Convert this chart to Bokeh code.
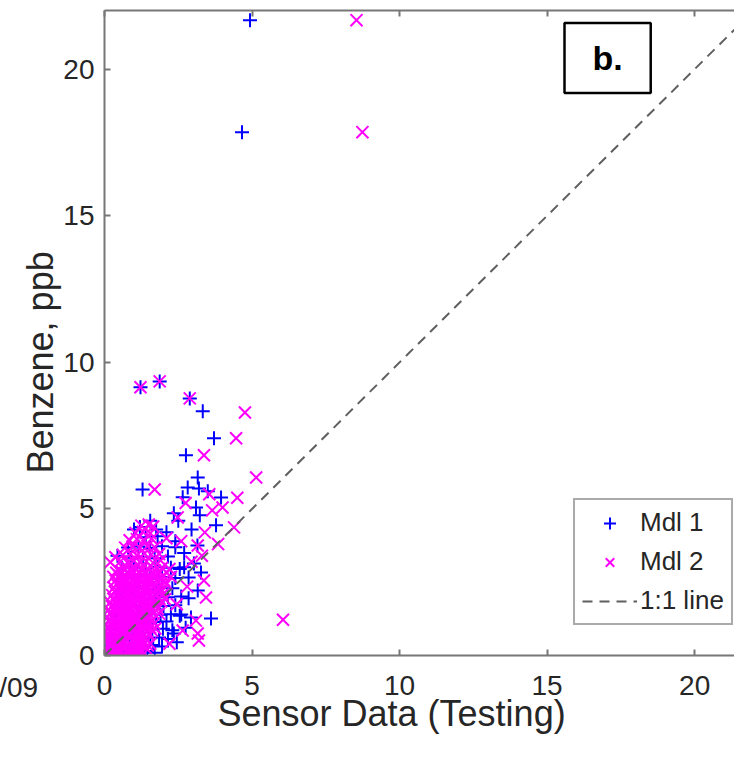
import math
from bokeh.plotting import figure
from bokeh.models import Range1d, LinearAxis, Label, Legend, LegendItem, FixedTicker, Title
from bokeh.embed import file_html
from bokeh.resources import INLINE

# ---------------- data ----------------
x_ticks = [0, 5, 10, 15, 20]
y_ticks = [0, 5, 10, 15, 20]
one_to_one = [0, 22]

# Model 1 (blue +)
mdl1_x = [4.93, 4.66, 1.22, 1.87, 2.89, 3.33, 3.71, 2.76, 3.16, 1.29, 3.20, 3.95, 2.82, 2.65,
          3.50, 2.35, 3.23, 3.78, 3.10, 2.50, 2.95, 3.15, 2.70, 2.40, 2.10, 3.03, 3.27, 3.16,
          3.61, 2.93, 2.35, 2.75, 2.60, 2.45, 2.85, 2.55, 1.75, 1.00, 0.44, 1.55,
          0.10, 0.40, 0.75, 1.10, 1.45, 1.70,
          0.00, 0.30, 0.65, 1.00, 1.35, 1.65, 1.95,
          0.15, 0.50, 0.85, 1.20, 1.55, 1.85, 2.15,
          0.25, 0.60, 0.95, 1.30, 1.62, 1.98, 2.30,
          0.35, 0.70, 1.05, 1.40, 1.75, 2.10,
          0.40, 0.78, 1.12, 1.50, 1.90, 2.25, 2.55,
          0.50, 0.88, 1.25, 1.62, 2.00, 2.40,
          0.55, 0.95, 1.35, 1.75, 2.15, 2.60,
          0.65, 1.05, 1.45, 1.85, 2.30,
          0.75, 1.15, 1.55, 1.95, 2.40, 2.85,
          0.60, 1.00, 1.40, 1.80, 2.25, 2.70,
          0.90, 1.30, 1.70, 2.15,
          0.80, 1.15, 1.55, 1.95, 2.40,
          1.40, 1.80, 1.20]
mdl1_y = [21.67, 17.85, 9.15, 9.35, 8.77, 8.33, 7.41, 6.83, 6.07, 5.66, 5.70, 5.39, 5.73, 5.40,
          5.60, 4.85, 4.78, 4.44, 5.05, 4.60, 4.30, 3.75, 3.50, 3.90, 4.20, 3.14, 2.83, 2.22,
          1.26, 1.30, 0.75, 0.95, 1.40, 0.45, 1.95, 2.95, 4.30, 4.30, 3.40, 4.60,
          0.12, 0.08, 0.14, 0.10, 0.15, 0.09,
          0.33, 0.37, 0.32, 0.38, 0.34, 0.36, 0.31,
          0.58, 0.62, 0.57, 0.63, 0.59, 0.61, 0.56,
          0.88, 0.92, 0.87, 0.93, 0.89, 0.91, 0.86,
          1.13, 1.17, 1.12, 1.18, 1.14, 1.16,
          1.38, 1.42, 1.37, 1.43, 1.39, 1.41, 1.36,
          1.68, 1.72, 1.67, 1.73, 1.69, 1.71,
          1.98, 2.02, 1.97, 2.03, 1.99, 2.01,
          2.28, 2.32, 2.27, 2.33, 2.29,
          2.63, 2.67, 2.62, 2.68, 2.64, 2.66,
          2.98, 3.02, 2.97, 3.03, 2.99, 3.01,
          3.33, 3.37, 3.32, 3.38,
          3.68, 3.72, 3.67, 3.73, 3.69,
          4.03, 4.07, 4.38]

# Model 2 (magenta x)
mdl2_x = [8.54, 8.74, 1.22, 1.87, 2.89, 4.76, 4.46, 3.37, 1.70, 5.14, 4.50, 4.00, 4.39, 3.10,
          3.20, 3.44, 6.05, 3.55, 3.65, 2.48, 3.40, 3.85, 3.16, 3.30, 2.60, 2.95, 3.37, 2.80,
          2.45, 2.65, 3.16, 2.20, 0.37, 1.65, 2.10, 2.75,
          0.02, 0.15, 0.30, 0.45, 0.62, 0.80, 0.98, 1.15, 1.32,
          0.05, 0.20, 0.36, 0.52, 0.70, 0.88, 1.05, 1.22, 1.40,
          0.03, 0.18, 0.34, 0.50, 0.67, 0.85, 1.02, 1.20, 1.38, 1.55,
          0.08, 0.25, 0.42, 0.60, 0.78, 0.95, 1.12, 1.30, 1.50,
          0.12, 0.30, 0.48, 0.65, 0.82, 1.00, 1.18, 1.36, 1.55, 1.72,
          0.15, 0.33, 0.50, 0.68, 0.86, 1.04, 1.22, 1.40, 1.60,
          0.20, 0.38, 0.55, 0.72, 0.90, 1.08, 1.27, 1.45, 1.65, 1.85,
          0.25, 0.42, 0.60, 0.78, 0.96, 1.14, 1.32, 1.52, 1.75,
          0.30, 0.48, 0.66, 0.84, 1.02, 1.20, 1.40, 1.60, 1.85, 2.05,
          0.35, 0.55, 0.74, 0.92, 1.10, 1.30, 1.50, 1.72, 1.95,
          0.42, 0.60, 0.80, 1.00, 1.18, 1.38, 1.60, 1.82, 2.10,
          0.30, 0.50, 0.70, 0.90, 1.10, 1.30, 1.52, 1.75, 2.00, 2.25,
          0.45, 0.65, 0.85, 1.05, 1.25, 1.47, 1.70, 1.95, 2.20,
          0.20, 0.55, 0.78, 1.00, 1.20, 1.42, 1.65, 1.90,
          0.62, 0.88, 1.10, 1.35, 1.58, 1.85,
          0.70, 0.95, 1.20, 1.45, 1.70,
          0.85, 1.10, 1.35, 1.60,
          1.05, 1.30, 1.55,
          1.25, 1.50,
          0.09, 0.24, 0.40, 0.55, 0.72, 0.90, 1.07, 1.24,
          0.12, 0.28, 0.44, 0.60, 0.78, 0.95, 1.13, 1.30, 1.47,
          0.00, 0.16, 0.33, 0.51, 0.69, 0.86, 1.04, 1.21, 1.40,
          0.03, 0.20, 0.38, 0.56, 0.73, 0.90, 1.08, 1.26, 1.45, 1.62,
          0.06, 0.24, 0.42, 0.60, 0.77, 0.95, 1.13, 1.31, 1.50, 1.68,
          0.10, 0.28, 0.46, 0.64, 0.81, 0.99, 1.17, 1.35, 1.54,
          0.15, 0.33, 0.50, 0.68, 0.86, 1.04, 1.22, 1.40, 1.60, 1.80,
          0.20, 0.38, 0.56, 0.74, 0.92, 1.10, 1.28, 1.48, 1.68, 1.92,
          0.26, 0.44, 0.62, 0.80, 0.98, 1.16, 1.35, 1.55, 1.76, 1.98,
          0.32, 0.50, 0.68, 0.86, 1.05, 1.24, 1.44, 1.64, 1.86,
          0.38, 0.56, 0.75, 0.95, 1.15, 1.35, 1.55, 1.78, 2.02,
          0.40, 0.60, 0.80, 1.00, 1.20, 1.42, 1.64, 1.88]
mdl2_y = [21.67, 17.85, 9.15, 9.35, 8.77, 8.29, 7.41, 6.83, 5.66, 6.07, 5.38, 5.05, 4.37, 1.19,
          0.51, 1.98, 1.22, 5.50, 4.95, 4.71, 4.20, 3.80, 3.75, 3.40, 3.90, 3.20, 2.56, 2.35,
          1.75, 0.85, 0.75, 0.40, 3.35, 4.40, 4.00, 5.20,
          0.04, 0.08, 0.02, 0.06, 0.03, 0.07, 0.05, 0.02, 0.06,
          0.22, 0.28, 0.25, 0.20, 0.27, 0.24, 0.29, 0.21, 0.26,
          0.47, 0.43, 0.50, 0.44, 0.48, 0.42, 0.46, 0.49, 0.44, 0.40,
          0.68, 0.72, 0.66, 0.74, 0.70, 0.67, 0.73, 0.69, 0.71,
          0.93, 0.97, 0.92, 0.98, 0.94, 0.96, 0.91, 0.99, 0.95, 0.92,
          1.18, 1.22, 1.16, 1.23, 1.19, 1.21, 1.17, 1.24, 1.20,
          1.43, 1.47, 1.42, 1.48, 1.44, 1.46, 1.41, 1.49, 1.45, 1.43,
          1.68, 1.72, 1.67, 1.73, 1.69, 1.71, 1.66, 1.74, 1.70,
          1.93, 1.97, 1.92, 1.98, 1.94, 1.96, 1.91, 1.99, 1.95, 1.92,
          2.18, 2.22, 2.17, 2.23, 2.19, 2.21, 2.16, 2.24, 2.20,
          2.43, 2.47, 2.42, 2.48, 2.44, 2.46, 2.41, 2.49, 2.45,
          2.68, 2.72, 2.67, 2.73, 2.69, 2.71, 2.66, 2.74, 2.70, 2.68,
          2.93, 2.97, 2.92, 2.98, 2.94, 2.96, 2.91, 2.99, 2.95,
          3.18, 3.22, 3.17, 3.23, 3.19, 3.21, 3.16, 3.24,
          3.43, 3.47, 3.42, 3.48, 3.44, 3.46,
          3.68, 3.72, 3.67, 3.73, 3.69,
          3.93, 3.97, 3.92, 3.98,
          4.18, 4.22, 4.17,
          4.43, 4.47,
          0.16, 0.13, 0.17, 0.14, 0.15, 0.12, 0.17, 0.14,
          0.35, 0.38, 0.34, 0.37, 0.36, 0.33, 0.38, 0.35, 0.34,
          0.57, 0.60, 0.56, 0.59, 0.58, 0.61, 0.56, 0.59, 0.57,
          0.81, 0.84, 0.80, 0.83, 0.82, 0.85, 0.80, 0.83, 0.81, 0.84,
          1.06, 1.09, 1.05, 1.08, 1.07, 1.10, 1.04, 1.08, 1.06, 1.09,
          1.31, 1.34, 1.30, 1.33, 1.32, 1.35, 1.30, 1.33, 1.31,
          1.56, 1.59, 1.55, 1.58, 1.57, 1.60, 1.54, 1.58, 1.56, 1.59,
          1.81, 1.84, 1.80, 1.83, 1.82, 1.85, 1.80, 1.83, 1.81, 1.84,
          2.06, 2.09, 2.05, 2.08, 2.07, 2.10, 2.04, 2.08, 2.06, 2.09,
          2.31, 2.34, 2.30, 2.33, 2.32, 2.35, 2.30, 2.33, 2.31,
          2.56, 2.59, 2.55, 2.58, 2.57, 2.60, 2.54, 2.58, 2.56,
          2.82, 2.85, 2.81, 2.84, 2.83, 2.86, 2.80, 2.84]

legend_labels = ["Mdl 1", "Mdl 2", "1:1 line"]
x_label = "Sensor Data (Testing)"
y_label = "Benzene, ppb"
panel_tag = "b."
clipped_neighbour_tick = "/09"

# ---------------- figure ----------------
FONT = "Liberation Sans"
TXT = "#262626"
AX = "#777777"

p = figure(width=734, height=758, output_backend="svg", toolbar_location=None,
           x_range=Range1d(0, 21.35), y_range=Range1d(0, 22),
           min_border_left=104, min_border_right=0, min_border_top=10, min_border_bottom=103,
           background_fill_color="white", border_fill_color="white")
p.grid.visible = False
p.outline_line_color = None

bottom_axis = p.below[0]
left_axis = p.left[0]
top_axis = LinearAxis()
p.add_layout(top_axis, "above")

for ax, ticks in [(bottom_axis, x_ticks), (left_axis, y_ticks), (top_axis, x_ticks)]:
    ax.ticker = FixedTicker(ticks=ticks)
    ax.axis_line_color = AX
    ax.axis_line_width = 2
    ax.major_tick_line_color = AX
    ax.major_tick_line_width = 2
    ax.major_tick_in = 6
    ax.major_tick_out = 0
    ax.minor_tick_line_color = None
    ax.major_label_text_font = FONT
    ax.major_label_text_font_size = "28px"
    ax.major_label_text_color = TXT

bottom_axis.major_label_standoff = 20
left_axis.major_label_standoff = 10
top_axis.major_label_text_font_size = "1px"
top_axis.major_label_text_alpha = 0
top_axis.major_label_standoff = 0

r1 = p.scatter(mdl1_x, mdl1_y, marker="cross", size=14, line_color="#0000ff", line_width=2)
r2 = p.scatter(mdl2_x, mdl2_y, marker="x", size=17, line_color="#ff00ff", line_width=2)
r3 = p.line(one_to_one, one_to_one, line_color="#5f5f5f", line_width=2, line_dash="10 7")

legend = Legend(items=[LegendItem(label=legend_labels[0], renderers=[r1]),
                       LegendItem(label=legend_labels[1], renderers=[r2]),
                       LegendItem(label=legend_labels[2], renderers=[r3])],
                location=(469, 30), glyph_width=55, glyph_height=30, label_height=30,
                spacing=8, padding=7, label_standoff=3, margin=0,
                border_line_color="#555555", border_line_width=2,
                background_fill_color="white", background_fill_alpha=1,
                label_text_font=FONT, label_text_font_size="26px", label_text_color=TXT)
p.add_layout(legend)

p.add_layout(Title(text=x_label, align="left", offset=113, standoff=-14,
                   text_font=FONT, text_font_size="36px", text_font_style="normal",
                   text_color=TXT), "below")
p.add_layout(Title(text=y_label, align="left", offset=182, standoff=0,
                   text_font=FONT, text_font_size="36px", text_font_style="normal",
                   text_color=TXT), "left")
p.add_layout(Label(x=-2.25, y=-1.09, text=clipped_neighbour_tick, text_align="right",
                   text_baseline="middle", text_font=FONT, text_font_size="28px",
                   text_color=TXT), "below")
p.add_layout(Label(x=17.05, y=20.38, text=panel_tag, text_align="center", text_baseline="middle",
                   text_font=FONT, text_font_size="34px", text_font_style="bold", text_color="black",
                   border_line_color="black", border_line_width=2.5,
                   background_fill_color="white", padding=(28, 16)))

open("out.html", "w").write(file_html(p, INLINE))
